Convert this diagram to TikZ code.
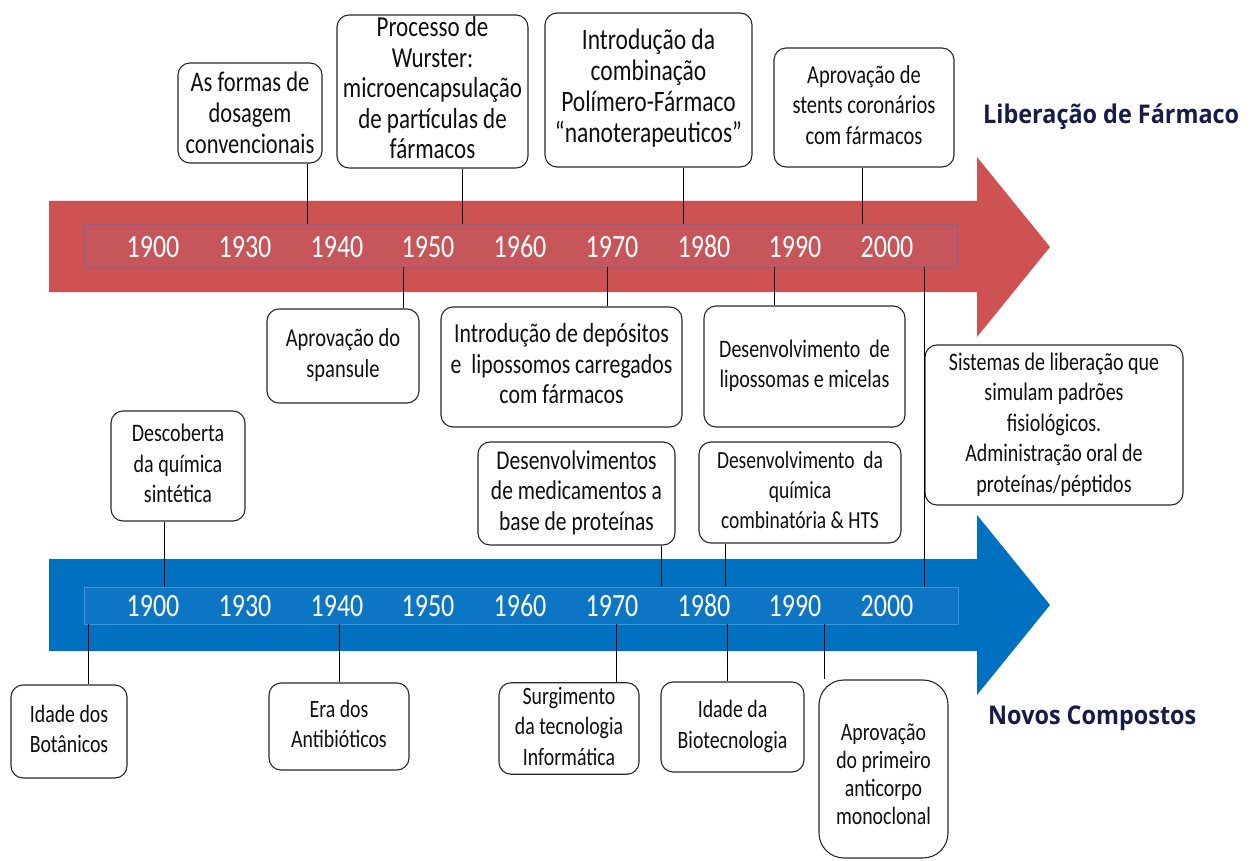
\documentclass[tikz,border=0pt]{standalone}
\usepackage{fontspec}
\setmainfont{Carlito}
\newfontfamily\titlefont{Open Sans}
\usepackage{graphicx}
\definecolor{redA}{RGB}{207,82,82}
\definecolor{redIn}{RGB}{199,86,90}
\definecolor{redInB}{RGB}{125,100,150}
\definecolor{blueA}{RGB}{0,112,192}
\definecolor{blueIn}{RGB}{12,117,196}
\definecolor{blueInB}{RGB}{70,145,212}
\definecolor{navy}{RGB}{22,28,72}
\definecolor{boxc}{RGB}{40,40,40}
\definecolor{txtc}{RGB}{15,15,15}
% size, baselineskip, lines
\newcommand{\tx}[3]{\fontsize{#1}{#2}\selectfont\scalebox{1}[1.26]{\begin{tabular}{@{}c@{}}#3\end{tabular}}}
\newcommand{\yr}[1]{\scalebox{1}[1.25]{#1}}
\begin{document}
\begin{tikzpicture}[x=1pt,y=-1pt,
  box/.style={draw=boxc, line width=1.1pt, rounded corners=12pt, fill=white, inner sep=0pt, text=txtc},
  year/.style={text=white, inner sep=0pt, font=\fontsize{26}{28}\selectfont},
  conn/.style={draw=black, line width=0.9pt},
  ttl/.style={anchor=west, inner sep=0pt, text=navy, font=\titlefont\bfseries\fontsize{23.4}{28}\selectfont}]
\useasboundingbox (0,0) rectangle (1253,861);
\fill[white] (0,0) rectangle (1253,861);
% arrows
\fill[redA] (49,201) -- (977,201) -- (977,157) -- (1050,247) -- (977,337) -- (977,292) -- (49,292) -- cycle;
\fill[blueA] (49,559) -- (977,559) -- (977,515) -- (1050,605) -- (977,695) -- (977,651) -- (49,651) -- cycle;
% inner bands
\node[draw=redInB, fill=redIn, line width=0.8pt, minimum width=873pt, minimum height=43pt, inner sep=0pt] (ri) at (520.5,245.5) {};
\node[draw=blueInB, fill=blueIn, line width=0.6pt, minimum width=874pt, minimum height=37pt, inner sep=0pt] (bi) at (521,605.5) {};
% years top
\node[year] (ra) at (153,247) {\yr{1900}};
\node[year] (rb) at (245,247) {\yr{1930}};
\node[year] (rc) at (337,247) {\yr{1940}};
\node[year] (rd) at (428,247) {\yr{1950}};
\node[year] (re) at (520,247) {\yr{1960}};
\node[year] (rf) at (612,247) {\yr{1970}};
\node[year] (rg) at (704,247) {\yr{1980}};
\node[year] (rh) at (795,247) {\yr{1990}};
\node[year] (ri2) at (887,247) {\yr{2000}};
% years bottom
\node[year] (ba) at (153,606) {\yr{1900}};
\node[year] (bb) at (245,606) {\yr{1930}};
\node[year] (bc) at (337,606) {\yr{1940}};
\node[year] (bd) at (428,606) {\yr{1950}};
\node[year] (be) at (520,606) {\yr{1960}};
\node[year] (bf) at (612,606) {\yr{1970}};
\node[year] (bg) at (704,606) {\yr{1980}};
\node[year] (bh) at (795,606) {\yr{1990}};
\node[year] (bi2) at (887,606) {\yr{2000}};
% titles
\node[ttl] (t1) at (983,117) {\scalebox{1}[1.1]{Liberação de Fármaco}};
\node[ttl] (t2) at (988,718) {\scalebox{1}[1.1]{Novos Compostos}};
% connector x positions
\coordinate (k1) at (307,0);
\coordinate (k2) at (462,0);
\coordinate (k3) at (683,0);
\coordinate (k4) at (862,0);
\coordinate (k5) at (403,0);
\coordinate (k6) at (607,0);
\coordinate (k7) at (774,0);
\coordinate (k8) at (924,0);
\coordinate (k9) at (164,0);
\coordinate (k10) at (661,0);
\coordinate (k11) at (725,0);
\coordinate (k12) at (88,0);
\coordinate (k13) at (339,0);
\coordinate (k14) at (616,0);
\coordinate (k15) at (727,0);
\coordinate (k16) at (824,0);
% boxes
\node[box, minimum width=144pt, minimum height=100pt] (b1) at (250,113) {\raisebox{-3pt}[\height][\depth]{\tx{22.5}{24.6}{As formas de\\dosagem\\convencionais}}};
\node[box, minimum width=191pt, minimum height=153pt] (b2) at (432.5,91.5) {\tx{23}{24.2}{Processo de\\Wurster:\\microencapsulação\\de partículas de\\fármacos}};
\node[box, minimum width=207pt, minimum height=154pt] (b3) at (648.5,90) {\tx{23.5}{24.6}{Introdução da\\combinação\\Polímero-Fármaco\\“nanoterapeuticos”}};
\node[box, minimum width=180pt, minimum height=119pt] (b4) at (864,107.5) {\tx{20.5}{24.2}{Aprovação de\\stents coronários\\com fármacos}};
\node[box, minimum width=152pt, minimum height=94pt] (b5) at (343,356) {\tx{20.5}{24.2}{Aprovação do\\spansule}};
\node[box, minimum width=241pt, minimum height=120pt] (b6) at (561.5,367) {\tx{21.8}{24.2}{Introdução de depósitos\\e\ \ lipossomos carregados\\com fármacos}};
\node[box, minimum width=201pt, minimum height=121pt] (b7) at (804.5,366.5) {\tx{20}{24.2}{Desenvolvimento\ \ de\\lipossomas e micelas}};
\node[box, minimum width=258pt, minimum height=160pt] (b8) at (1054,425) {\tx{20}{24.2}{Sistemas de liberação que\\simulam padrões\\fisiológicos.\\Administração oral de\\proteínas/péptidos}};
\node[box, minimum width=134pt, minimum height=110pt] (b9) at (178,466) {\tx{20}{24.2}{Descoberta\\da química\\sintética}};
\node[box, minimum width=197pt, minimum height=103pt] (b10) at (576.5,493.5) {\tx{21.5}{24.2}{Desenvolvimentos\\de medicamentos a\\base de proteínas}};
\node[box, minimum width=202pt, minimum height=101pt] (b11) at (800,492.5) {\tx{19.5}{23.8}{Desenvolvimento\ \ da\\química\\combinatória \& HTS}};
\node[box, minimum width=116pt, minimum height=93pt] (b12) at (69,731.5) {\tx{19.8}{24.2}{Idade dos\\Botânicos}};
\node[box, minimum width=140pt, minimum height=87pt] (b13) at (339,726.5) {\tx{19.8}{24.2}{Era dos\\Antibióticos}};
\node[box, minimum width=140pt, minimum height=89pt] (b14) at (569,728.5) {\tx{19.8}{24.2}{Surgimento\\da tecnologia\\Informática}};
\node[box, minimum width=143pt, minimum height=90pt] (b15) at (732.5,727) {\tx{19.8}{24.2}{Idade da\\Biotecnologia}};
\node[box, rounded corners=25pt, minimum width=129pt, minimum height=178pt] (b16) at (883.5,769) {\raisebox{-8pt}[\height][\depth]{\tx{19.8}{22.4}{Aprovação\\do primeiro\\anticorpo\\monoclonal}}};
% connectors
\draw[conn] (b1.south -| k1) -- (ri.north -| k1);
\draw[conn] (b2.south -| k2) -- (ri.north -| k2);
\draw[conn] (b3.south -| k3) -- (ri.north -| k3);
\draw[conn] (b4.south -| k4) -- (ri.north -| k4);
\draw[conn] (ri.south -| k5) -- (b5.north -| k5);
\draw[conn] (ri.south -| k6) -- (b6.north -| k6);
\draw[conn] (ri.south -| k7) -- (b7.north -| k7);
\draw[conn] (ri.south -| k8) -- (bi.north -| k8);
\draw[conn] (b9.south -| k9) -- (bi.north -| k9);
\draw[conn] (b10.south -| k10) -- (bi.north -| k10);
\draw[conn] (b11.south -| k11) -- (bi.north -| k11);
\draw[conn] (bi.south -| k12) -- (b12.north -| k12);
\draw[conn] (bi.south -| k13) -- (b13.north -| k13);
\draw[conn] (bi.south -| k14) -- (b14.north -| k14);
\draw[conn] (bi.south -| k15) -- (b15.north -| k15);
\draw[conn] (bi.south -| k16) -- (b16.north -| k16);
\end{tikzpicture}
\end{document}
